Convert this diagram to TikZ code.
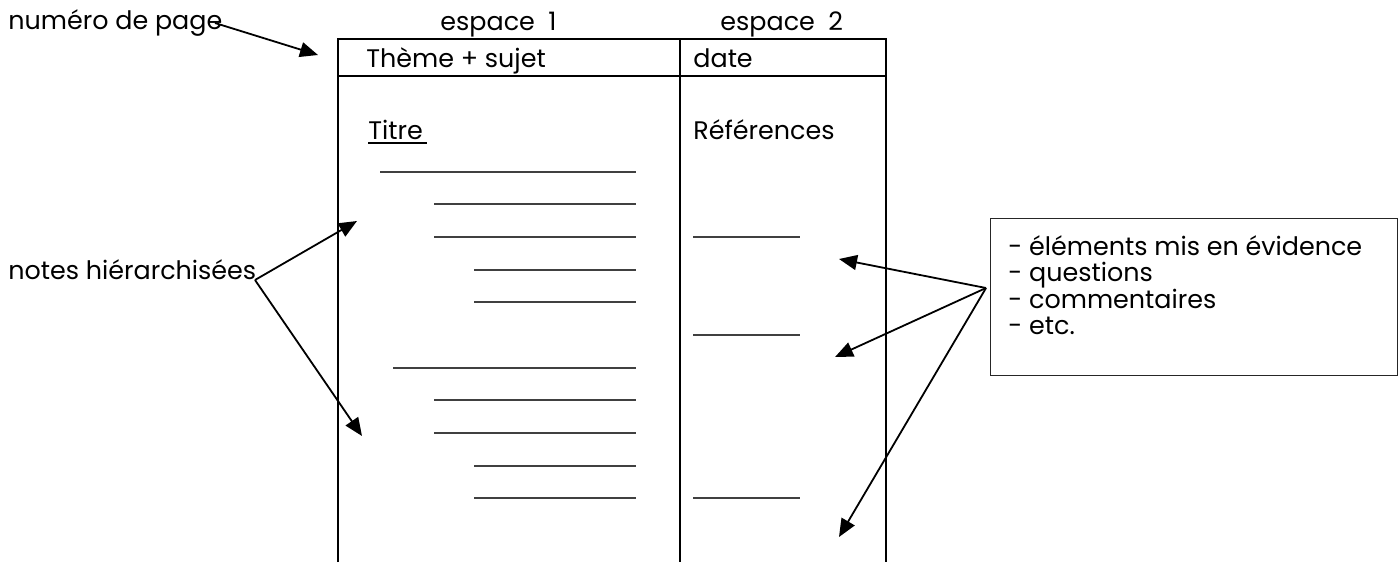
\documentclass[tikz,border=0pt]{standalone}
\usepackage{fontspec}
\setmainfont{Poppins}
\usetikzlibrary{arrows.meta}
\begin{document}
\begin{tikzpicture}[x=0.5pt,y=-0.5pt,
  txt/.style={anchor=base west, inner sep=0pt, font=\fontsize{12.7}{15}\selectfont},
  tbl/.style={line width=1pt},
  rulel/.style={line width=0.7pt, black!75},
  arr/.style={line width=0.9pt, -{Triangle[length=9pt,width=7.5pt]}},
]
\useasboundingbox (0,0) rectangle (1400,562);
% table
\draw[tbl] (338,562) -- (338,39) -- (886,39) -- (886,562);
\draw[tbl] (680,39) -- (680,562);
\draw[tbl] (338,76) -- (886,76);
% headings
\node[txt] (e1) at (440,30) {espace\ \ 1};
\node[txt] (e2) at (720,30) {espace\ \ 2};
\node[txt] (theme) at (366,67) {Thème + sujet};
\node[txt] (date) at (693,67) {date};
\node[txt] (titre) at (368,139) {Titre};
\draw[line width=0.8pt] (368,143) -- (427,143);
\node[txt] (ref) at (693,139) {Références};
% rules col 1
\foreach \xa/\yy in {380/172,434/204,434/237,474/270,474/302,393/368,434/400,434/433,474/466,474/498}
  \draw[rulel] (\xa,\yy) -- (636,\yy);
% rules col 2
\foreach \yy in {237,335,498}
  \draw[rulel] (693,\yy) -- (800,\yy);
% left labels
\node[txt] (np) at (8,29) {numéro de page};
\node[txt] (nh) at (8,279) {notes hiérarchisées};
\coordinate (npA) at (215,23);
\coordinate (npB) at (318,55);
\draw[arr] (npA) -- (npB);
\coordinate (nhA) at (255,280);
\coordinate (nhB) at (357,221);
\coordinate (nhC) at (362,436);
\draw[arr] (nhA) -- (nhB);
\draw[arr] (nhA) -- (nhC);
% right box
\node[draw, line width=0.5pt, black!85, minimum width=203.5pt, minimum height=78.5pt, anchor=north west, inner sep=0pt] (box) at (990,218) {};
\node[txt] (l1) at (1008,255) {- éléments mis en évidence};
\node[txt] (l2) at (1008,281) {- questions};
\node[txt] (l3) at (1008,308) {- commentaires};
\node[txt] (l4) at (1008,334) {- etc.};
\coordinate (bxA) at (986,288);
\coordinate (bxB) at (839,259);
\coordinate (bxC) at (835,357);
\coordinate (bxD) at (839,537);
\draw[arr] (bxA) -- (bxB);
\draw[arr] (bxA) -- (bxC);
\draw[arr] (bxA) -- (bxD);
\end{tikzpicture}
\end{document}
